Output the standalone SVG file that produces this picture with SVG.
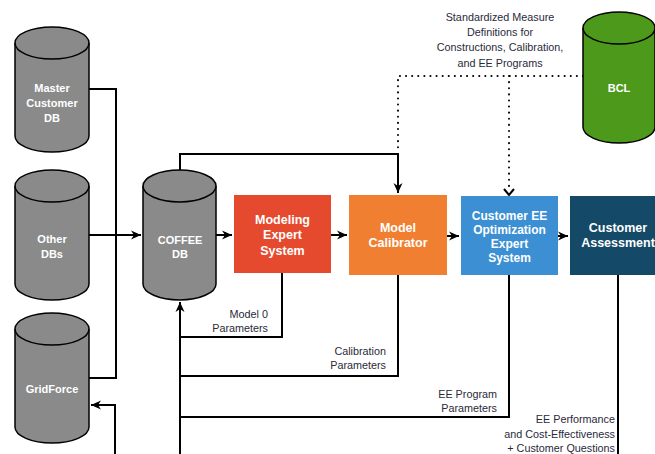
<svg xmlns="http://www.w3.org/2000/svg" width="655" height="454" viewBox="0 0 655 454">
<defs>
<style>
.cyl{stroke:#000;stroke-width:1.5}
.gray{fill:#8a8a8a}
.green{fill:#4d991b}
.box{stroke:none}
.nt{font-family:"Liberation Sans",Arial,sans-serif;font-weight:bold;fill:#fff;text-anchor:middle}
.ct{font-size:11px}
.bt{font-size:12.5px}
.lbl{font-family:"Liberation Sans",Arial,sans-serif;font-size:10.8px;fill:#2a2a3a}
.ln{fill:none;stroke:#000;stroke-width:2}
.dot{fill:none;stroke:#000;stroke-width:2;stroke-dasharray:0.1 6;stroke-linecap:round}
</style>
<marker id="ah" markerUnits="userSpaceOnUse" markerWidth="12" markerHeight="12" viewBox="0 0 12 12" refX="11" refY="6" orient="auto">
<path d="M1,1.5 L11,6 L1,10.5 L4,6 Z" fill="#000"/>
</marker>
</defs>
<rect width="655" height="454" fill="#fff"/>

<g id="connectors">
<path class="ln" d="M89,89 H116 V378 H89"/>
<path class="ln" d="M89,235 H141" marker-end="url(#ah)"/>
<path class="ln" d="M216,235 H232" marker-end="url(#ah)"/>
<path class="ln" d="M331,235 H347" marker-end="url(#ah)"/>
<path class="ln" d="M447,236 H459" marker-end="url(#ah)"/>
<path class="ln" d="M558,236 H568" marker-end="url(#ah)"/>
<path class="ln" d="M180,170 V154 H398 V193" marker-end="url(#ah)"/>
<path class="ln" d="M282,273 V337 H180"/>
<path class="ln" d="M398,275 V376 H180"/>
<path class="ln" d="M509,275 V417 H180"/>
<path class="ln" d="M180,454 V302" marker-end="url(#ah)"/>
<path class="ln" d="M618,275 V454"/>
<path class="ln" d="M115,454 V405 H91" marker-end="url(#ah)"/>
<path class="dot" d="M583,76 H398 V148"/>
<path class="dot" d="M509,76 V190"/>
<path fill="none" stroke="#000" stroke-width="2" d="M504,189 L509,195 L514,189"/>
<g class="lbl">
<text x="268" y="318" text-anchor="end">Model 0</text>
<text x="268" y="332" text-anchor="end">Parameters</text>
<text x="386" y="355" text-anchor="end">Calibration</text>
<text x="386" y="369" text-anchor="end">Parameters</text>
<text x="497" y="398" text-anchor="end">EE Program</text>
<text x="497" y="412" text-anchor="end">Parameters</text>
<text x="615" y="423" text-anchor="end">EE Performance</text>
<text x="615" y="438" text-anchor="end">and Cost-Effectiveness</text>
<text x="615" y="452" text-anchor="end">+ Customer Questions</text>
<text x="500" y="21" text-anchor="middle">Standardized Measure</text>
<text x="500" y="36" text-anchor="middle">Definitions for</text>
<text x="500" y="51" text-anchor="middle">Constructions, Calibration,</text>
<text x="500" y="67" text-anchor="middle">and EE Programs</text>
</g>
</g>

<g id="master-customer-db">
<path class="cyl gray" d="M15,43 A37,16 0 0 1 89,43 V136 A37,16 0 0 1 15,136 Z"/>
<path class="cyl" fill="none" d="M15,43 A37,16 0 0 0 89,43"/>
<text class="nt ct" x="52" y="92">Master</text>
<text class="nt ct" x="52" y="107">Customer</text>
<text class="nt ct" x="52" y="122">DB</text>
</g>
<g id="other-dbs">
<path class="cyl gray" d="M15,186 A37,16 0 0 1 89,186 V284 A37,16 0 0 1 15,284 Z"/>
<path class="cyl" fill="none" d="M15,186 A37,16 0 0 0 89,186"/>
<text class="nt ct" x="52" y="243">Other</text>
<text class="nt ct" x="52" y="258">DBs</text>
</g>
<g id="gridforce">
<path class="cyl gray" d="M15,329 A37,16 0 0 1 89,329 V427 A37,16 0 0 1 15,427 Z"/>
<path class="cyl" fill="none" d="M15,329 A37,16 0 0 0 89,329"/>
<text class="nt ct" x="52" y="393">GridForce</text>
</g>
<g id="coffee-db">
<path class="cyl gray" d="M143,186 A36.5,16 0 0 1 216,186 V284 A36.5,16 0 0 1 143,284 Z"/>
<path class="cyl" fill="none" d="M143,186 A36.5,16 0 0 0 216,186"/>
<text class="nt ct" x="180" y="244">COFFEE</text>
<text class="nt ct" x="180" y="258">DB</text>
</g>
<g id="bcl">
<path class="cyl green" d="M583,28 A36,16 0 0 1 655,28 V127 A36,16 0 0 1 583,127 Z"/>
<path class="cyl" fill="none" d="M583,28 A36,16 0 0 0 655,28"/>
<text class="nt ct" x="619" y="92">BCL</text>
</g>
<g id="modeling-expert-system">
<rect class="box" x="234" y="195" width="97" height="78" fill="#e64a2e"/>
<text class="nt bt" x="282.5" y="224">Modeling</text>
<text class="nt bt" x="282.5" y="239">Expert</text>
<text class="nt bt" x="282.5" y="255">System</text>
</g>
<g id="model-calibrator">
<rect class="box" x="349" y="195" width="98" height="80" fill="#f07f31"/>
<text class="nt bt" x="398" y="232">Model</text>
<text class="nt bt" x="398" y="247">Calibrator</text>
</g>
<g id="customer-ee-optimization">
<rect class="box" x="461" y="196" width="97" height="79" fill="#3b8fd2"/>
<text class="nt" font-size="12" x="509.5" y="220">Customer EE</text>
<text class="nt" font-size="12" x="509.5" y="234">Optimization</text>
<text class="nt" font-size="12" x="509.5" y="248">Expert</text>
<text class="nt" font-size="12" x="509.5" y="262">System</text>
</g>
<g id="customer-assessment">
<rect class="box" x="570" y="196" width="97" height="79" fill="#154968"/>
<text class="nt bt" x="618" y="232">Customer</text>
<text class="nt bt" x="618" y="247">Assessment</text>
</g>
</svg>
